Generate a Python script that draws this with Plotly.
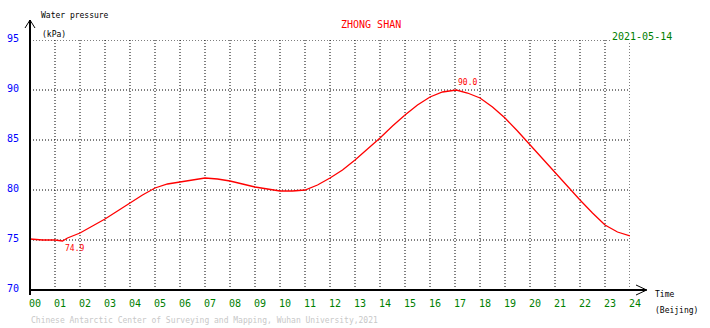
import plotly.graph_objects as go

# Water pressure readings (kPa) against Beijing time (hours)
hours = [0.0, 0.5, 1.0, 1.3, 1.5, 2.0, 2.5, 3.0, 3.5, 4.0, 4.5, 5.0, 5.5, 6.0, 6.5,
         7.0, 7.5, 8.0, 8.5, 9.0, 9.5, 10.0, 10.5, 11.0, 11.5, 12.0, 12.5, 13.0,
         13.5, 14.0, 14.5, 15.0, 15.5, 16.0, 16.5, 17.05, 17.5, 18.0, 18.5, 19.0,
         19.5, 20.0, 20.5, 21.0, 21.5, 22.0, 22.5, 23.0, 23.5, 24.0]
pressure = [75.1, 75.0, 75.0, 74.9, 75.2, 75.7, 76.4, 77.1, 77.9, 78.7, 79.5, 80.2,
            80.6, 80.8, 81.0, 81.2, 81.1, 80.9, 80.6, 80.3, 80.1, 79.9, 79.9, 80.0,
            80.5, 81.2, 82.0, 83.0, 84.1, 85.2, 86.4, 87.5, 88.5, 89.3, 89.8, 90.0,
            89.7, 89.2, 88.3, 87.2, 85.9, 84.5, 83.1, 81.7, 80.3, 79.0, 77.7, 76.5,
            75.8, 75.4]

x_ticks = list(range(0, 25))
x_tick_text = [f"{h:02d}" for h in x_ticks]
y_ticks = [70, 75, 80, 85, 90, 95]

station = "ZHONG SHAN"
date_text = "2021-05-14"
footer = "Chinese Antarctic Center of Surveying and Mapping, Wuhan University,2021"

MONO = "DejaVu Sans Mono"
RED = "#ff0000"
GREEN = "#008000"
BLUE = "#0000ff"

fig = go.Figure()

# dotted grid: one vertical line per hour, one horizontal line per 5 kPa
dots = dict(color="black", width=1, dash="1px,2px")
for h in x_ticks[1:]:
    fig.add_shape(type="line", xref="x", yref="paper", x0=h, x1=h, y0=0, y1=1,
                  line=dots, layer="below")
for v in y_ticks[1:]:
    fig.add_shape(type="line", xref="paper", yref="y", x0=0, x1=1, y0=v, y1=v,
                  line=dots, layer="below")

fig.add_trace(go.Scatter(x=hours, y=pressure, mode="lines",
                         line=dict(color=RED, width=1.3), hoverinfo="x+y",
                         showlegend=False))

# min / max labels taken from the series itself
i_min = pressure.index(min(pressure))
i_max = pressure.index(max(pressure))
fig.add_annotation(x=hours[i_min], y=pressure[i_min], text=f"{pressure[i_min]:.1f}",
                   showarrow=False, xanchor="left", yanchor="top", yshift=-1,
                   font=dict(family=MONO, size=8, color=RED))
fig.add_annotation(x=hours[i_max], y=pressure[i_max], text=f"{pressure[i_max]:.1f}",
                   showarrow=False, xanchor="left", yanchor="bottom", yshift=1,
                   font=dict(family=MONO, size=8, color=RED))

axis_common = dict(showgrid=False, zeroline=False, showline=False, ticks="",
                   automargin=False, fixedrange=True)
fig.update_xaxes(range=[0, 24], tickvals=x_ticks, ticktext=x_tick_text,
                 tickfont=dict(family=MONO, size=10, color=GREEN),
                 ticklabelshift=5, ticklabelstandoff=6, **axis_common)
fig.update_yaxes(range=[70, 95], tickvals=y_ticks,
                 tickfont=dict(family=MONO, size=10, color=BLUE),
                 ticklabelshift=-2, ticklabelstandoff=10, **axis_common)

# axes with open arrowheads
axis_line = dict(color="black", width=2)
fig.add_shape(type="line", xref="paper", yref="paper", x0=0, x1=0, y0=-0.02, y1=1.08,
              line=axis_line)
fig.add_shape(type="path", xref="paper", yref="paper",
              path="M -0.00833,1.048 L 0,1.08 L 0.00833,1.048", line=dict(color="black", width=1))
fig.add_shape(type="line", xref="paper", yref="paper", x0=0, x1=1.0278, y0=0, y1=0,
              line=axis_line)
fig.add_shape(type="path", xref="paper", yref="paper",
              path="M 1.01,0.02 L 1.0278,0 L 1.01,-0.02", line=dict(color="black", width=1))

# text around the plot
W, H = 710, 328
L, T, PW, PH = 30, 40, 600, 250
px = lambda X: (X - L) / PW
py = lambda Y: (T + PH - Y) / PH

def label(text, x, y, size, color, **extra):
    fig.add_annotation(text=text, xref="paper", yref="paper", x=px(x), y=py(y),
                       xanchor="left", yanchor="middle", showarrow=False,
                       font=dict(family=MONO, size=size, color=color), **extra)

label("Water pressure", 39, 16, 8, "black")
label("(kPa)", 40, 34.5, 8, "black")
label(station, 339, 25, 10, RED)
label(date_text, 611, 36.5, 10, GREEN, bgcolor="white", borderpad=0)
label("Time", 653, 294.5, 8, "black")
label("(Beijing)", 653, 310, 8, "black")
label(footer, 29, 320, 8, "#c8c8c8")

fig.update_layout(template="none", width=W, height=H,
                  margin=dict(l=L, r=W - L - PW, t=T, b=H - T - PH, autoexpand=False),
                  plot_bgcolor="white", paper_bgcolor="white", showlegend=False)

fig.write_html("out.html")
